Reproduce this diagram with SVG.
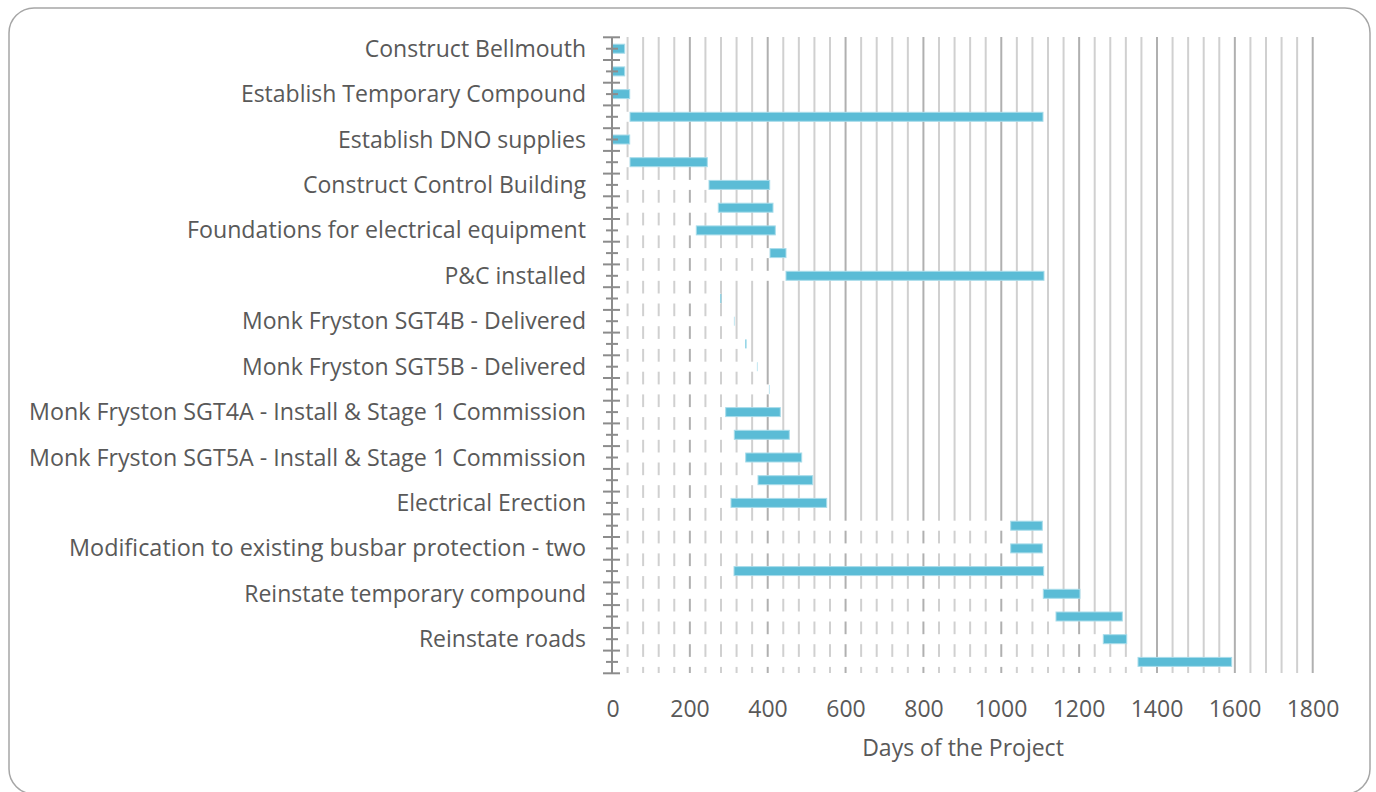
<svg xmlns="http://www.w3.org/2000/svg" width="1376" height="792" viewBox="0 0 1376 792">
  <style>
    .frame { fill: #ffffff; stroke: #a6a6a6; stroke-width: 1.5; }
    .grid { stroke: #d0d0d0; stroke-width: 2; }
    .grid-major { stroke: #b0b0b0; stroke-width: 2; }
    .mask { fill: #ffffff; }
    .bar { fill: #5bbcd6; stroke: #a9dcea; stroke-width: 1; }
    .sliver { fill: #7fcde2; }
    .axis { stroke: #8c8c8c; stroke-width: 2; fill: none; }
    .cat { font-family: "Open Sans", "Liberation Sans", sans-serif; font-size: 23px; fill: #595959; text-anchor: end; }
    .num { font-family: "Open Sans", "Liberation Sans", sans-serif; font-size: 23px; fill: #595959; text-anchor: middle; }
  </style>
  <defs>
    <!-- one vertical gridline: plot area spans y 37..673 -->
    <line id="gl" x1="0" y1="37" x2="0" y2="673"/>
    <!-- tick marks on the category axis -->
    <line id="tk-major" x1="603" y1="0" x2="620" y2="0"/>
    <line id="tk-minor" x1="606" y1="0" x2="618" y2="0"/>
  </defs>

  <rect class="frame" x="9" y="8" width="1361" height="786" rx="25" ry="25"/>

  <!-- gridlines every 40 days (15.571 px), darker every 200 days -->
  <g id="gridlines">
    <use href="#gl" class="grid" x="627.57"/>
    <use href="#gl" class="grid" x="643.14"/>
    <use href="#gl" class="grid" x="658.71"/>
    <use href="#gl" class="grid" x="674.28"/>
    <use href="#gl" class="grid-major" x="689.86"/>
    <use href="#gl" class="grid" x="705.43"/>
    <use href="#gl" class="grid" x="721.00"/>
    <use href="#gl" class="grid" x="736.57"/>
    <use href="#gl" class="grid" x="752.14"/>
    <use href="#gl" class="grid-major" x="767.71"/>
    <use href="#gl" class="grid" x="783.28"/>
    <use href="#gl" class="grid" x="798.85"/>
    <use href="#gl" class="grid" x="814.42"/>
    <use href="#gl" class="grid" x="830.00"/>
    <use href="#gl" class="grid-major" x="845.57"/>
    <use href="#gl" class="grid" x="861.14"/>
    <use href="#gl" class="grid" x="876.71"/>
    <use href="#gl" class="grid" x="892.28"/>
    <use href="#gl" class="grid" x="907.85"/>
    <use href="#gl" class="grid-major" x="923.42"/>
    <use href="#gl" class="grid" x="939.00"/>
    <use href="#gl" class="grid" x="954.57"/>
    <use href="#gl" class="grid" x="970.14"/>
    <use href="#gl" class="grid" x="985.71"/>
    <use href="#gl" class="grid-major" x="1001.28"/>
    <use href="#gl" class="grid" x="1016.85"/>
    <use href="#gl" class="grid" x="1032.42"/>
    <use href="#gl" class="grid" x="1048.00"/>
    <use href="#gl" class="grid" x="1063.57"/>
    <use href="#gl" class="grid-major" x="1079.14"/>
    <use href="#gl" class="grid" x="1094.71"/>
    <use href="#gl" class="grid" x="1110.28"/>
    <use href="#gl" class="grid" x="1125.85"/>
    <use href="#gl" class="grid" x="1141.42"/>
    <use href="#gl" class="grid-major" x="1157.00"/>
    <use href="#gl" class="grid" x="1172.57"/>
    <use href="#gl" class="grid" x="1188.14"/>
    <use href="#gl" class="grid" x="1203.71"/>
    <use href="#gl" class="grid" x="1219.28"/>
    <use href="#gl" class="grid-major" x="1234.85"/>
    <use href="#gl" class="grid" x="1250.42"/>
    <use href="#gl" class="grid" x="1266.00"/>
    <use href="#gl" class="grid" x="1281.57"/>
    <use href="#gl" class="grid" x="1297.14"/>
    <use href="#gl" class="grid-major" x="1312.71"/>
  </g>

  <!-- start-offset series: white bars from day 0 to each task's start -->
  <g id="offsets" class="mask">
    <rect x="612" y="111.8" width="18" height="10"/>
    <rect x="612" y="157.2" width="18" height="10"/>
    <rect x="612" y="179.9" width="97" height="10"/>
    <rect x="612" y="202.7" width="106.3" height="10"/>
    <rect x="612" y="225.4" width="84.3" height="10"/>
    <rect x="612" y="248.1" width="158" height="10"/>
    <rect x="612" y="270.8" width="174" height="10"/>
    <rect x="612" y="293.5" width="108.7" height="10"/>
    <rect x="612" y="316.2" width="122.3" height="10"/>
    <rect x="612" y="338.9" width="133.7" height="10"/>
    <rect x="612" y="361.7" width="145.3" height="10"/>
    <rect x="612" y="384.4" width="157.3" height="10"/>
    <rect x="612" y="407.1" width="113.7" height="10"/>
    <rect x="612" y="429.8" width="122.3" height="10"/>
    <rect x="612" y="452.5" width="133.7" height="10"/>
    <rect x="612" y="475.2" width="146" height="10"/>
    <rect x="612" y="497.9" width="119" height="10"/>
    <rect x="612" y="520.7" width="398.7" height="10"/>
    <rect x="612" y="543.4" width="398.7" height="10"/>
    <rect x="612" y="566.1" width="122" height="10"/>
    <rect x="612" y="588.8" width="431.3" height="10"/>
    <rect x="612" y="611.5" width="444" height="10"/>
    <rect x="612" y="634.2" width="491.3" height="10"/>
    <rect x="612" y="656.9" width="526" height="10"/>
  </g>

  <!-- task durations -->
  <g id="bars">
    <rect class="bar" x="612" y="44.2" width="12.7" height="9"/>
    <rect class="bar" x="612" y="66.9" width="12.7" height="9"/>
    <rect class="bar" x="612" y="89.6" width="17.7" height="9"/>
    <rect class="bar" x="630" y="112.3" width="413" height="9"/>
    <rect class="bar" x="612" y="135.0" width="17.7" height="9"/>
    <rect class="bar" x="630" y="157.7" width="77.3" height="9"/>
    <rect class="bar" x="709" y="180.4" width="60.7" height="9"/>
    <rect class="bar" x="718.3" y="203.2" width="54.7" height="9"/>
    <rect class="bar" x="696.3" y="225.9" width="79" height="9"/>
    <rect class="bar" x="770" y="248.6" width="16" height="9"/>
    <rect class="bar" x="786" y="271.3" width="258" height="9"/>
    <rect class="sliver" x="720.2" y="294.0" width="1.2" height="9"/>
    <rect class="sliver" x="733.9" y="316.7" width="0.8" height="9" opacity="0.6"/>
    <rect class="sliver" x="745.2" y="339.4" width="1.3" height="9"/>
    <rect class="sliver" x="756.9" y="362.2" width="0.8" height="9" opacity="0.6"/>
    <rect class="sliver" x="768.9" y="384.9" width="0.8" height="9" opacity="0.6"/>
    <rect class="bar" x="725.7" y="407.6" width="54.6" height="9"/>
    <rect class="bar" x="734.3" y="430.3" width="55" height="9"/>
    <rect class="bar" x="745.7" y="453.0" width="56" height="9"/>
    <rect class="bar" x="758" y="475.7" width="54.7" height="9"/>
    <rect class="bar" x="731" y="498.4" width="95.7" height="9"/>
    <rect class="bar" x="1010.7" y="521.2" width="31.6" height="9"/>
    <rect class="bar" x="1010.7" y="543.9" width="31.6" height="9"/>
    <rect class="bar" x="734" y="566.6" width="309.7" height="9"/>
    <rect class="bar" x="1043.3" y="589.3" width="36.7" height="9"/>
    <rect class="bar" x="1056" y="612.0" width="66.3" height="9"/>
    <rect class="bar" x="1103.3" y="634.7" width="23.4" height="9"/>
    <rect class="bar" x="1138" y="657.4" width="93.7" height="9"/>
  </g>

  <!-- category axis with crossing tick marks -->
  <g id="category-axis" class="axis">
    <line x1="612" y1="37.3" x2="612" y2="673.3"/>
    <use href="#tk-major" y="37.3"/>
    <use href="#tk-major" y="60.0"/>
    <use href="#tk-major" y="82.7"/>
    <use href="#tk-major" y="105.4"/>
    <use href="#tk-major" y="128.2"/>
    <use href="#tk-major" y="150.9"/>
    <use href="#tk-major" y="173.6"/>
    <use href="#tk-major" y="196.3"/>
    <use href="#tk-major" y="219.0"/>
    <use href="#tk-major" y="241.7"/>
    <use href="#tk-major" y="264.4"/>
    <use href="#tk-major" y="287.2"/>
    <use href="#tk-major" y="309.9"/>
    <use href="#tk-major" y="332.6"/>
    <use href="#tk-major" y="355.3"/>
    <use href="#tk-major" y="378.0"/>
    <use href="#tk-major" y="400.7"/>
    <use href="#tk-major" y="423.4"/>
    <use href="#tk-major" y="446.1"/>
    <use href="#tk-major" y="468.9"/>
    <use href="#tk-major" y="491.6"/>
    <use href="#tk-major" y="514.3"/>
    <use href="#tk-major" y="537.0"/>
    <use href="#tk-major" y="559.7"/>
    <use href="#tk-major" y="582.4"/>
    <use href="#tk-major" y="605.1"/>
    <use href="#tk-major" y="627.9"/>
    <use href="#tk-major" y="650.6"/>
    <use href="#tk-major" y="673.3"/>
    <use href="#tk-minor" y="48.7"/>
    <use href="#tk-minor" y="71.4"/>
    <use href="#tk-minor" y="94.1"/>
    <use href="#tk-minor" y="116.8"/>
    <use href="#tk-minor" y="139.5"/>
    <use href="#tk-minor" y="162.2"/>
    <use href="#tk-minor" y="184.9"/>
    <use href="#tk-minor" y="207.7"/>
    <use href="#tk-minor" y="230.4"/>
    <use href="#tk-minor" y="253.1"/>
    <use href="#tk-minor" y="275.8"/>
    <use href="#tk-minor" y="298.5"/>
    <use href="#tk-minor" y="321.2"/>
    <use href="#tk-minor" y="343.9"/>
    <use href="#tk-minor" y="366.7"/>
    <use href="#tk-minor" y="389.4"/>
    <use href="#tk-minor" y="412.1"/>
    <use href="#tk-minor" y="434.8"/>
    <use href="#tk-minor" y="457.5"/>
    <use href="#tk-minor" y="480.2"/>
    <use href="#tk-minor" y="502.9"/>
    <use href="#tk-minor" y="525.7"/>
    <use href="#tk-minor" y="548.4"/>
    <use href="#tk-minor" y="571.1"/>
    <use href="#tk-minor" y="593.8"/>
    <use href="#tk-minor" y="616.5"/>
    <use href="#tk-minor" y="639.2"/>
    <use href="#tk-minor" y="661.9"/>
  </g>

  <!-- task names (every second category is labelled) -->
  <g id="task-labels">
    <text class="cat" x="586" y="56.7">Construct Bellmouth</text>
    <text class="cat" x="586" y="102.1">Establish Temporary Compound</text>
    <text class="cat" x="586" y="147.5">Establish DNO supplies</text>
    <text class="cat" x="586" y="192.9">Construct Control Building</text>
    <text class="cat" x="586" y="238.4" textLength="399" lengthAdjust="spacingAndGlyphs">Foundations for electrical equipment</text>
    <text class="cat" x="586" y="283.8">P&amp;C installed</text>
    <text class="cat" x="586" y="329.2">Monk Fryston SGT4B - Delivered</text>
    <text class="cat" x="586" y="374.7">Monk Fryston SGT5B - Delivered</text>
    <text class="cat" x="586" y="420.1" textLength="557" lengthAdjust="spacingAndGlyphs">Monk Fryston SGT4A - Install &amp; Stage 1 Commission</text>
    <text class="cat" x="586" y="465.5" textLength="557" lengthAdjust="spacingAndGlyphs">Monk Fryston SGT5A - Install &amp; Stage 1 Commission</text>
    <text class="cat" x="586" y="510.9">Electrical Erection</text>
    <text class="cat" x="586" y="556.4" textLength="517" lengthAdjust="spacingAndGlyphs">Modification to existing busbar protection - two</text>
    <text class="cat" x="586" y="601.8">Reinstate temporary compound</text>
    <text class="cat" x="586" y="647.2">Reinstate roads</text>
  </g>

  <!-- value axis -->
  <g id="value-axis">
    <text class="num" x="613" y="717">0</text>
    <text class="num" x="690" y="717">200</text>
    <text class="num" x="768" y="717">400</text>
    <text class="num" x="846" y="717">600</text>
    <text class="num" x="924" y="717">800</text>
    <text class="num" x="1001" y="717">1000</text>
    <text class="num" x="1079" y="717">1200</text>
    <text class="num" x="1157" y="717">1400</text>
    <text class="num" x="1235" y="717">1600</text>
    <text class="num" x="1313" y="717">1800</text>
    <text class="num" x="963" y="756">Days of the Project</text>
  </g>
</svg>
